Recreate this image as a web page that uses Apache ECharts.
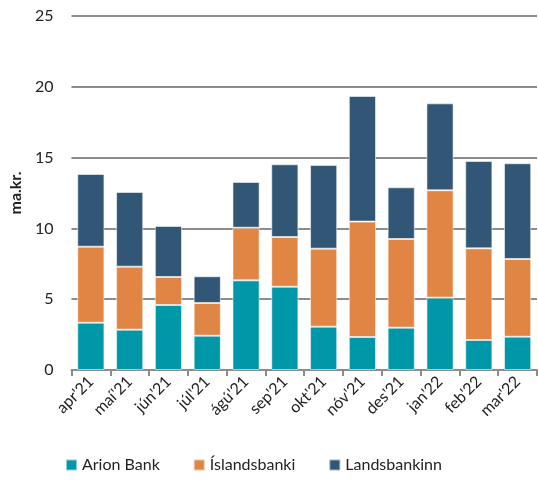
<!DOCTYPE html>
<html>
<head>
<meta charset="utf-8">
<script src="https://cdn.jsdelivr.net/npm/echarts@6/dist/echarts.min.js"></script>
<style>
  html, body { margin: 0; padding: 0; background: #fff; }
  #chart { width: 538px; height: 482px; }
</style>
</head>
<body>
<div id="chart"></div>
<script>
// months
var months = ["apr'21", "maí'21", "jún'21", "júl'21", "ágú'21", "sep'21",
  "okt'21", "nóv'21", "des'21", "jan'22", "feb'22", "mar'22"];

// ma.kr. per bank
var arion = [3.34, 2.85, 4.59, 2.42, 6.33, 5.88, 3.06, 2.33, 2.99, 5.11, 2.12, 2.35];
var islandsbanki = [5.37, 4.45, 1.98, 2.31, 3.72, 3.51, 5.51, 8.15, 6.26, 7.58, 6.47, 5.49];
var landsbankinn = [5.13, 5.27, 3.60, 1.89, 3.23, 5.14, 5.91, 8.87, 3.65, 6.14, 6.17, 6.76];

var yTicks = [0, 5, 10, 15, 20, 25];

var font = "Lato";

function barSeries(name, data, color) {
  return {
    name: name,
    type: "bar",
    stack: "total",
    barWidth: "70%",
    data: data,
    itemStyle: {
      color: color,
      borderColor: "rgba(255,255,255,0.55)",
      borderWidth: 1
    }
  };
}

var chart = echarts.init(document.getElementById("chart"));
chart.setOption({
  animation: false,
  textStyle: { fontFamily: font },
  grid: {
    left: 70,
    right: 1,
    top: 16,
    bottom: 112
  },
  legend: {
    bottom: 4,
    left: 60,
    itemWidth: 11,
    itemHeight: 11,
    itemGap: 33,
    icon: "rect",
    textStyle: { fontSize: 16, color: "#222", fontFamily: font }
  },
  xAxis: {
    type: "category",
    data: months,
    axisLine: { lineStyle: { color: "#8c8c8c", width: 2 } },
    axisTick: { show: true, length: 6, lineStyle: { color: "#8c8c8c", width: 2 } },
    axisLabel: {
      rotate: 45,
      fontSize: 16,
      color: "#222",
      margin: 9,
      interval: 0
    }
  },
  yAxis: {
    type: "value",
    min: yTicks[0],
    max: yTicks[yTicks.length - 1],
    interval: 5,
    name: "ma.kr.",
    nameLocation: "middle",
    nameGap: 46,
    nameTextStyle: { fontSize: 16, fontWeight: "bold", color: "#222" },
    axisLine: { show: false },
    axisTick: { show: false },
    axisLabel: { fontSize: 16, color: "#222", margin: 18 },
    splitLine: { lineStyle: { color: "#8c8c8c", width: 2 } }
  },
  series: [
    barSeries("Arion Bank", arion, "#0097a9"),
    barSeries("Íslandsbanki", islandsbanki, "#e08544"),
    barSeries("Landsbankinn", landsbankinn, "#325676")
  ]
});
</script>
</body>
</html>
